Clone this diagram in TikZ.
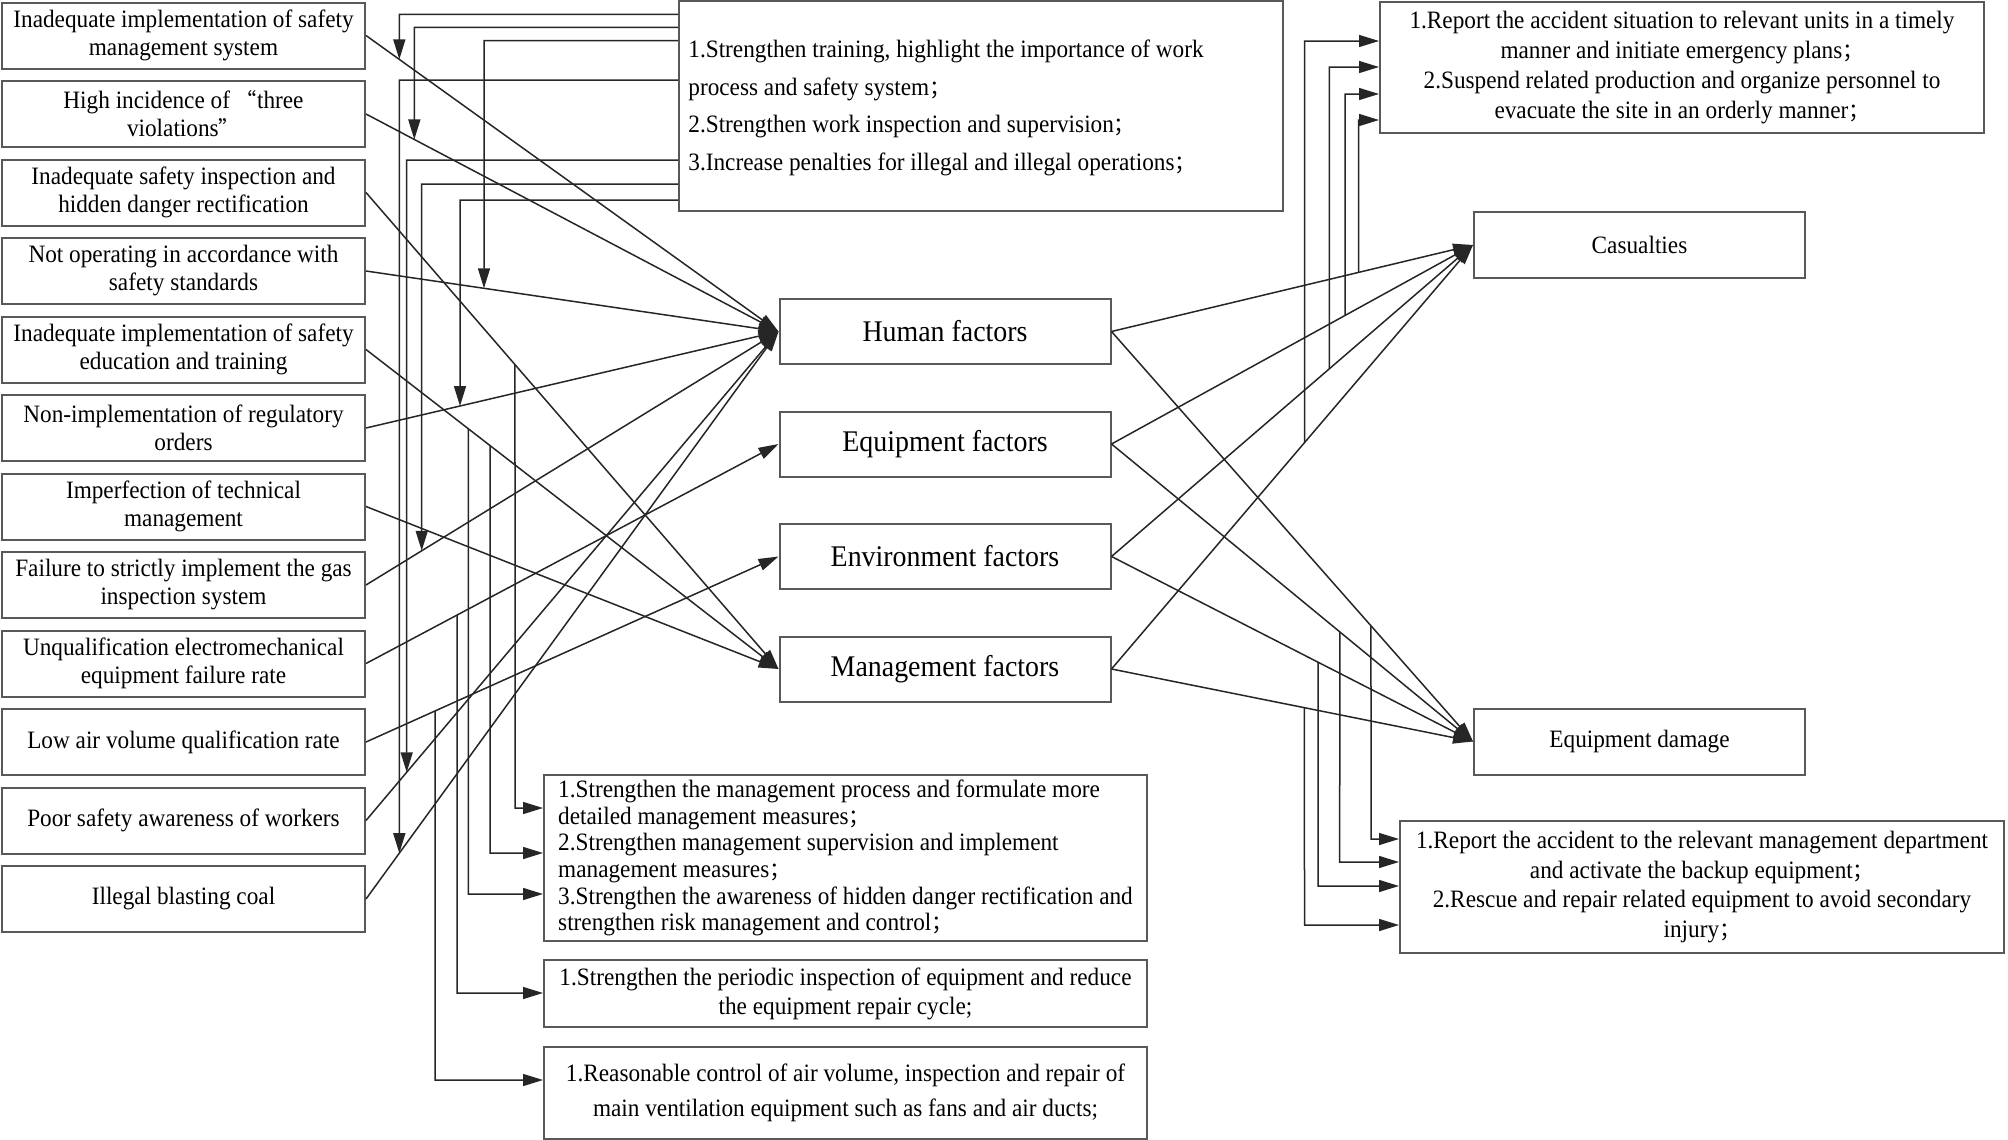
\documentclass[tikz,border=0pt]{standalone}
\usepackage{fontspec}
\setmainfont{Liberation Serif}[FakeStretch=0.93]
\newfontfamily\cjk{Noto Sans CJK SC}[Scale=0.85]
\usetikzlibrary{arrows.meta}
\newcommand\cjsemi{{\cjk ；}}
\newcommand\cjlq{{\cjk “}}
\newcommand\cjrq{{\cjk ”}}
\newcommand\fnS{\fontsize{12.5}{14}\selectfont}
\newcommand\fnT{\fontsize{12.5}{18.85}\selectfont}
\newcommand\fnR{\fontsize{12.5}{14.85}\selectfont}
\newcommand\fnA{\fontsize{12.5}{13.3}\selectfont}
\newcommand\fnB{\fontsize{12.5}{14.5}\selectfont}
\newcommand\fnC{\fontsize{12.5}{17.5}\selectfont}
\newcommand\fnF{\fontsize{15}{17}\selectfont}
\tikzset{
  bx/.style={draw=black!65, line width=1pt, fill=white, inner sep=0pt, align=center, font=\fnS},
  lbox/.style={bx, minimum width=181.5pt, minimum height=33pt},
  fbox/.style={bx, minimum width=165.5pt, minimum height=32.5pt, font=\fnF},
  obox/.style={bx, minimum width=165.5pt, minimum height=33pt},
  wbox/.style={bx, minimum width=302pt},
  ln/.style={line width=0.75pt, draw=black!85},
  ar/.style={ln, -{Triangle[length=10pt,width=6pt]}},
}
\begin{document}
\begin{tikzpicture}[x=0.5pt, y=-0.5pt]
\useasboundingbox (0,0) rectangle (2008,1140);

% left cause boxes
\node[lbox] (l1) at (183.5,35.5) {Inadequate implementation of safety\\management system};
\node[lbox] (l2) at (183.5,114) {High incidence of \cjlq three\\violations\cjrq};
\node[lbox] (l3) at (183.5,192.5) {Inadequate safety inspection and\\hidden danger rectification};
\node[lbox] (l4) at (183.5,271) {Not operating in accordance with\\safety standards};
\node[lbox] (l5) at (183.5,349.5) {Inadequate implementation of safety\\education and training};
\node[lbox] (l6) at (183.5,428) {Non-implementation of regulatory\\orders};
\node[lbox] (l7) at (183.5,506.5) {Imperfection of technical\\management};
\node[lbox] (l8) at (183.5,585) {Failure to strictly implement the gas\\inspection system};
\node[lbox] (l9) at (183.5,663.5) {Unqualification electromechanical\\equipment failure rate};
\node[lbox] (l10) at (183.5,742) {Low air volume qualification rate};
\node[lbox] (l11) at (183.5,820.5) {Poor safety awareness of workers};
\node[lbox] (l12) at (183.5,899) {Illegal blasting coal};

% factor boxes
\node[fbox] (hf) at (945,331.5) {Human factors};
\node[fbox] (ef) at (945,444) {Equipment factors};
\node[fbox] (nf) at (945,556.5) {Environment factors};
\node[fbox] (mf) at (945,669) {Management factors};

% outcome boxes
\node[obox] (cas) at (1639.5,245) {Casualties};
\node[obox] (eqd) at (1639.5,741.5) {Equipment damage};

% measure boxes
\node[wbox, minimum height=105pt] (tb) at (981,106) {};
\node[anchor=west, align=left, font=\fnT, inner sep=0pt] (tbt) at (688,108)
  {1.Strengthen training, highlight the importance of work\\
   process and safety system\cjsemi\\
   2.Strengthen work inspection and supervision\cjsemi\\
   3.Increase penalties for illegal and illegal operations\cjsemi};
\node[wbox, minimum height=65.5pt, font=\fnR] (trb) at (1682,67.5)
  {1.Report the accident situation to relevant units in a timely\\
   manner and initiate emergency plans\cjsemi\\
   2.Suspend related production and organize personnel to\\
   evacuate the site in an orderly manner\cjsemi};
\node[wbox, minimum height=66pt, font=\fnR] (brb) at (1702,887)
  {1.Report the accident to the relevant management department\\
   and activate the backup equipment\cjsemi\\
   2.Rescue and repair related equipment to avoid secondary\\
   injury\cjsemi};
\node[wbox, minimum width=301.5pt, minimum height=83pt, align=left, font=\fnA] (bA) at (845.5,858)
  {1.Strengthen the management process and formulate more\\
   detailed management measures\cjsemi\\
   2.Strengthen management supervision and implement\\
   management measures\cjsemi\\
   3.Strengthen the awareness of hidden danger rectification and\\
   strengthen risk management and control\cjsemi};
\node[wbox, minimum width=301.5pt, minimum height=33.5pt, font=\fnB] (bB) at (845.5,993.5)
  {1.Strengthen the periodic inspection of equipment and reduce\\
   the equipment repair cycle;};
\node[wbox, minimum width=301.5pt, minimum height=46pt, font=\fnC] (bC) at (845.5,1093)
  {1.Reasonable control of air volume, inspection and repair of\\
   main ventilation equipment such as fans and air ducts;};

% causes -> factors
\foreach \s/\t in {l1/hf, l2/hf, l4/hf, l6/hf, l8/hf, l11/hf, l12/hf,
                   l9/ef, l10/nf, l3/mf, l5/mf, l7/mf}
  \draw[ar] (\s.east) -- (\t.west);

% factors -> outcomes
\foreach \f in {hf, ef, nf, mf} {
  \draw[ar] (\f.east) -- (cas.west);
  \draw[ar] (\f.east) -- (eqd.west);
}

% human-factor measures -> connectors
\coordinate (h1) at (399.3,14.3);
\coordinate (h2) at (414.3,27.3);
\coordinate (h3) at (484,40.7);
\coordinate (h4) at (399.3,80);
\coordinate (h5) at (406.7,160);
\coordinate (h6) at (421.7,184);
\coordinate (h7) at (460,200);
\draw[ar] (tb.west |- h1) -- (h1) -- (intersection of l1.east--hf.west and h1--399.3,1000);
\draw[ar] (tb.west |- h2) -- (h2) -- (intersection of l2.east--hf.west and h2--414.3,1000);
\draw[ar] (tb.west |- h3) -- (h3) -- (intersection of l4.east--hf.west and h3--484,1000);
\draw[ar] (tb.west |- h4) -- (h4) -- (intersection of l12.east--hf.west and h4--399.3,1000);
\draw[ar] (tb.west |- h5) -- (h5) -- (intersection of l11.east--hf.west and h5--406.7,1000);
\draw[ar] (tb.west |- h6) -- (h6) -- (intersection of l8.east--hf.west and h6--421.7,1000);
\draw[ar] (tb.west |- h7) -- (h7) -- (intersection of l6.east--hf.west and h7--460,1000);

% connectors -> lower measures
\coordinate (m1) at (515,808);
\coordinate (m2) at (490,853);
\coordinate (m3) at (468.3,894);
\coordinate (m4) at (457,993);
\coordinate (m5) at (435,1080);
\draw[ar] (intersection of l3.east--mf.west and m1--515,0) -- (m1) -- (bA.west |- m1);
\draw[ar] (intersection of l5.east--mf.west and m2--490,0) -- (m2) -- (bA.west |- m2);
\draw[ar] (intersection of l5.east--mf.west and m3--468.3,0) -- (m3) -- (bA.west |- m3);
\draw[ar] (intersection of l9.east--ef.west and m4--457,0) -- (m4) -- (bB.west |- m4);
\draw[ar] (intersection of l10.east--nf.west and m5--435,0) -- (m5) -- (bC.west |- m5);

% casualties connectors -> emergency measures
\coordinate (r1) at (1304.5,41);
\coordinate (r2) at (1329.3,67);
\coordinate (r3) at (1345,94);
\coordinate (r4) at (1358.7,120);
\draw[ar] (intersection of mf.east--cas.west and r1--1304.5,1000) -- (r1) -- (trb.west |- r1);
\draw[ar] (intersection of nf.east--cas.west and r2--1329.3,1000) -- (r2) -- (trb.west |- r2);
\draw[ar] (intersection of ef.east--cas.west and r3--1345,1000) -- (r3) -- (trb.west |- r3);
\draw[ar] (intersection of hf.east--cas.west and r4--1358.7,1000) -- (r4) -- (trb.west |- r4);

% equipment damage connectors -> repair measures
\coordinate (d1) at (1371,839);
\coordinate (d2) at (1339.7,862);
\coordinate (d3) at (1318,886);
\coordinate (d4) at (1304.5,925);
\draw[ar] (intersection of hf.east--eqd.west and d1--1371,0) -- (d1) -- (brb.west |- d1);
\draw[ar] (intersection of ef.east--eqd.west and d2--1339.7,0) -- (d2) -- (brb.west |- d2);
\draw[ar] (intersection of nf.east--eqd.west and d3--1318,0) -- (d3) -- (brb.west |- d3);
\draw[ar] (intersection of mf.east--eqd.west and d4--1304.5,0) -- (d4) -- (brb.west |- d4);
\end{tikzpicture}
\end{document}
